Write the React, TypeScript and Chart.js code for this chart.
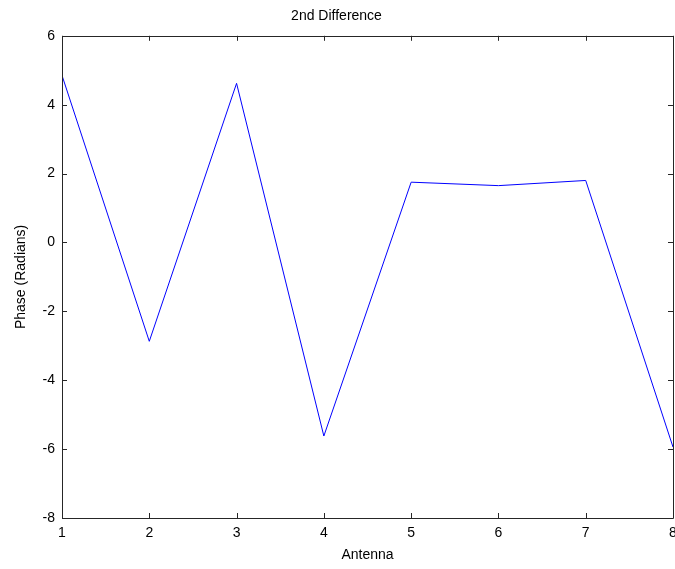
import React, { useEffect, useRef } from "react";
import { Chart, registerables } from "chart.js";

Chart.register(...registerables);

const antennas = [1, 2, 3, 4, 5, 6, 7, 8];
const phase = [4.85, -2.87, 4.62, -5.62, 1.75, 1.65, 1.8, -5.94];
const xTicks = [1, 2, 3, 4, 5, 6, 7, 8];
const yTicks = [-8, -6, -4, -2, 0, 2, 4, 6];
const titleText = "2nd Difference";
const xTitle = "Antenna";
const yTitle = "Phase (Radians)";

const FONT = "'Liberation Sans', Arial, sans-serif";

const boxPlugin = {
  id: "matlabBox",
  afterDraw(chart: any) {
    const { ctx, chartArea } = chart;
    const { left, right, top, bottom } = chartArea;
    const xs = chart.scales.x;
    const ys = chart.scales.y;
    ctx.save();
    ctx.strokeStyle = "#262626";
    ctx.lineWidth = 1;
    ctx.beginPath();
    ctx.rect(Math.round(left) + 0.5, Math.round(top) + 0.5, Math.round(right - left), Math.round(bottom - top));
    ctx.stroke();
    const L = 5;
    ctx.beginPath();
    xTicks.forEach((v) => {
      const px = Math.round(xs.getPixelForValue(v)) + 0.5;
      ctx.moveTo(px, bottom);
      ctx.lineTo(px, bottom - L);
      ctx.moveTo(px, top);
      ctx.lineTo(px, top + L);
    });
    yTicks.forEach((v) => {
      const py = Math.round(ys.getPixelForValue(v)) + 0.5;
      ctx.moveTo(left, py);
      ctx.lineTo(left + L, py);
      ctx.moveTo(right, py);
      ctx.lineTo(right - L, py);
    });
    ctx.stroke();
    ctx.restore();
  },
};

export default function App() {
  const ref = useRef<HTMLCanvasElement | null>(null);
  useEffect(() => {
    if (!ref.current) return;
    const chart = new Chart(ref.current, {
      type: "line",
      data: {
        datasets: [
          {
            data: antennas.map((a, i) => ({ x: a, y: phase[i] })),
            borderColor: "rgb(0,0,255)",
            borderWidth: 1,
            pointRadius: 0,
            tension: 0,
            fill: false,
          },
        ],
      },
      options: {
        responsive: false,
        animation: false,
        layout: { padding: { top: 0, right: 2, bottom: 0, left: 0 } },
        plugins: {
          legend: { display: false },
          tooltip: { enabled: false },
          title: {
            display: true,
            text: titleText,
            color: "#000",
            font: { family: FONT, size: 14, weight: "normal" },
            padding: { top: 8, bottom: 11 },
          },
        },
        scales: {
          x: {
            type: "linear",
            min: 1,
            max: 8,
            afterBuildTicks: (s: any) => {
              s.ticks = xTicks.map((v) => ({ value: v }));
            },
            afterFit: (s: any) => {
              s.height = 51;
              s.paddingLeft = 0;
              s.paddingRight = 0;
            },
            grid: { display: false, drawTicks: false },
            border: { display: false },
            ticks: {
              color: "#000",
              padding: 7,
              maxRotation: 0,
              autoSkip: false,
              font: { family: FONT, size: 14 },
            },
            title: {
              display: true,
              text: xTitle,
              color: "#000",
              font: { family: FONT, size: 14 },
              padding: { top: 0, bottom: 5 },
            },
          },
          y: {
            type: "linear",
            min: -8,
            max: 6,
            afterBuildTicks: (s: any) => {
              s.ticks = yTicks.map((v) => ({ value: v }));
            },
            afterFit: (s: any) => {
              s.width = 62;
              s.paddingTop = 0;
              s.paddingBottom = 0;
            },
            grid: { display: false, drawTicks: false },
            border: { display: false },
            ticks: {
              color: "#000",
              padding: 7,
              autoSkip: false,
              font: { family: FONT, size: 14 },
            },
            title: {
              display: true,
              text: yTitle,
              color: "#000",
              font: { family: FONT, size: 14 },
              padding: { top: 13, bottom: 0 },
            },
          },
        },
      },
      plugins: [boxPlugin],
    } as any);
    return () => chart.destroy();
  }, []);
  return (
    <div style={{ position: "fixed", left: 0, top: 0, width: 675, height: 569, background: "#fff" }}>
      <canvas ref={ref} width={675} height={569} style={{ display: "block" }} />
    </div>
  );
}
